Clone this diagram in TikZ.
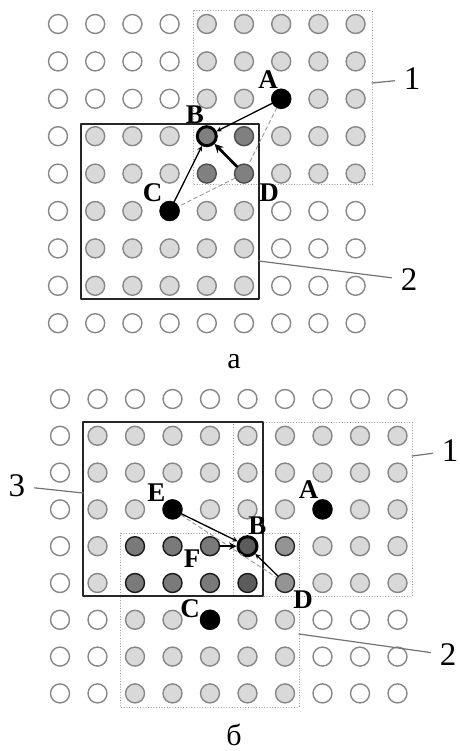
\documentclass[tikz,border=0pt]{standalone}
\usepackage{fontspec}
\setmainfont{Liberation Serif}
\begin{document}
\begin{tikzpicture}[x=1pt,y=-1pt,line join=round,line cap=round,>=stealth]
	\tikzset{
		free/.style={circle,draw=black!47,fill=white,line width=1.4pt,minimum size=19pt,inner sep=0pt},
		zone/.style={free,fill=black!15},
		both/.style={free,fill=black!50,draw=black!70},
		mid/.style={free,fill=black!42,draw=black!85},
		dark/.style={free,fill=black!52,draw=black!90},
		deep/.style={free,fill=black!64,draw=black!90},
		hit/.style={free,fill=black,draw=black},
		goal/.style={line width=3pt,draw=black},
		frame/.style={draw=black!85,line width=1.4pt},
		zonebox/.style={draw=black!45,line width=1pt,dash pattern=on 0.1pt off 2.6pt},
		guide/.style={draw=black!40,line width=0.9pt,dash pattern=on 4pt off 3pt},
		move/.style={->,line width=1.3pt},
		tag/.style={font=\fontsize{27}{27}\selectfont\bfseries,inner sep=0pt},
		num/.style={font=\fontsize{33}{33}\selectfont,inner xsep=9pt,inner ysep=1pt},
		leader/.style={draw=black!55,line width=1.2pt},
		caption/.style={font=\fontsize{30}{30}\selectfont,inner sep=0pt}
	}
	\useasboundingbox (0,0) rectangle (459,751);
	% а
	\draw[zonebox] (193,11) rectangle (372,185);
	\draw[frame] (81,124) rectangle (259,299);
	\begin{scope}[shift={(58,24)},x=37.2pt,y=-37.4pt]
		\foreach \i in {0,...,8}{
			\foreach \j in {0,...,8}{
				\pgfmathsetmacro{\p}{int(and(\i>3,\j<5))}
				\pgfmathsetmacro{\q}{int(and(and(\i>0,\i<6),and(\j>2,\j<8)))}
				\pgfmathsetmacro{\k}{int(\p+\q)}
				\ifcase\k \def\st{free}\or \def\st{zone}\else \def\st{both}\fi
				\node[\st] (t-\i-\j) at (\i,\j) {};
		}}
	\end{scope}
	\node[hit] (A) at (t-6-2) {};
	\node[hit] (C) at (t-3-5) {};
	\node[both,goal] (B) at (t-4-3) {};
	\draw[guide] (A) -- (t-5-4) -- (C);
	\draw[move] (A) -- (B);
	\draw[move] (C) -- (B);
	\draw[move,line width=2.8pt] (t-5-4) -- (B);
	\node[tag] (lA) at ([shift={(-13pt,19pt)}]A) {A};
	\node[tag] (lB) at ([shift={(-12pt,21pt)}]B) {B};
	\node[tag] (lC) at ([shift={(-17pt,18pt)}]C) {C};
	\node[tag] (lD) at ([shift={(25pt,-19pt)}]t-5-4) {D};
	\node[num] (n1) at (412,79) {1};
	\node[num] (n2) at (409,280) {2};
	\coordinate (e1) at (372,83);
	\coordinate (e2) at (259,261);
	\draw[leader] (e1) -- (n1);
	\draw[leader] (e2) -- (n2);
	\node[caption] (capa) at (234,362) {а};
	% б
	\draw[zonebox] (233,422) rectangle (412,596);
	\draw[zonebox] (120,533) rectangle (299,707);
	\draw[frame] (83,422) rectangle (263,596);
	\begin{scope}[shift={(60,399)},x=37.5pt,y=-36.8pt]
		\foreach \i in {0,...,9}{
			\foreach \j in {0,...,8}{
				\pgfmathsetmacro{\p}{int(and(\i>4,and(\j>0,\j<6)))}
				\pgfmathsetmacro{\q}{int(and(and(\i>1,\i<7),\j>3))}
				\pgfmathsetmacro{\r}{int(and(and(\i>0,\i<6),and(\j>0,\j<6)))}
				\pgfmathsetmacro{\k}{int(\p+2*\q+4*\r)}
				\ifcase\k \def\st{free}\or \def\st{zone}\or \def\st{zone}\or \def\st{mid}\or \def\st{zone}\or \def\st{zone}\or \def\st{dark}\else \def\st{deep}\fi
				\node[\st] (b-\i-\j) at (\i,\j) {};
		}}
	\end{scope}
	\node[hit] (E2) at (b-3-3) {};
	\node[hit] (A2) at (b-7-3) {};
	\node[hit] (C2) at (b-4-6) {};
	\node[deep,goal] (B2) at (b-5-4) {};
	\draw[guide] (E2) -- (b-6-5);
	\draw[move] (E2) -- (B2);
	\draw[move,line width=2.2pt] (b-4-4) -- (B2);
	\draw[move] (b-6-5) -- (B2);
	\node[tag] (lE2) at ([shift={(-16pt,17pt)}]E2) {E};
	\node[tag] (lA2) at ([shift={(-14pt,20pt)}]A2) {A};
	\node[tag] (lB2) at ([shift={(10pt,21pt)}]B2) {B};
	\node[tag] (lF2) at ([shift={(-18pt,-12pt)}]b-4-4) {F};
	\node[tag] (lC2) at ([shift={(-20pt,11pt)}]C2) {C};
	\node[tag] (lD2) at ([shift={(18pt,-17pt)}]b-6-5) {D};
	\node[num] (m1) at (450,451) {1};
	\node[num] (m2) at (448,655) {2};
	\node[num] (m3) at (17,486) {3};
	\coordinate (f1) at (412,456);
	\coordinate (f2) at (299,634);
	\coordinate (f3) at (83,493);
	\draw[leader] (f1) -- (m1);
	\draw[leader] (f2) -- (m2);
	\draw[leader] (f3) -- (m3);
	\node[caption] (capb) at (234,735) {б};
\end{tikzpicture}
\end{document}
